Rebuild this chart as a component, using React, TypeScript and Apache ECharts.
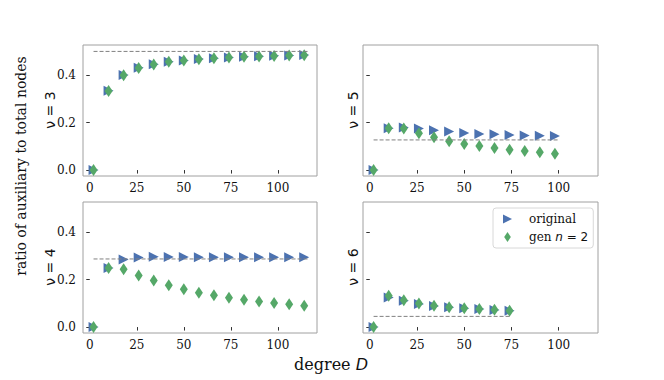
import React, { useEffect, useRef } from "react";
import * as echarts from "echarts";

const degrees = [2, 10, 18, 26, 34, 42, 50, 58, 66, 74, 82, 90, 98, 106, 114];

const nu3Original = [0, 0.334, 0.401, 0.431, 0.446, 0.456, 0.462, 0.468, 0.471, 0.474, 0.478, 0.48, 0.482, 0.483, 0.485];
const nu3Gen = [0, 0.333, 0.4, 0.43, 0.445, 0.456, 0.462, 0.467, 0.471, 0.474, 0.477, 0.479, 0.481, 0.483, 0.484];
const nu5Original = [0, 0.176, 0.179, 0.175, 0.168, 0.162, 0.156, 0.152, 0.151, 0.148, 0.146, 0.145, 0.144];
const nu5Gen = [0, 0.176, 0.175, 0.155, 0.138, 0.121, 0.11, 0.101, 0.093, 0.086, 0.08, 0.075, 0.069];
const nu4Original = [0, 0.249, 0.285, 0.293, 0.296, 0.295, 0.295, 0.294, 0.294, 0.294, 0.294, 0.294, 0.294, 0.294, 0.294];
const nu4Gen = [0, 0.249, 0.244, 0.217, 0.196, 0.176, 0.159, 0.145, 0.134, 0.124, 0.115, 0.108, 0.101, 0.096, 0.09];
const nu6Original = [0, 0.125, 0.111, 0.097, 0.089, 0.083, 0.079, 0.076, 0.072, 0.069];
const nu6Gen = [0, 0.132, 0.113, 0.099, 0.09, 0.083, 0.079, 0.076, 0.073, 0.069];

const nuValues = [3, 5, 4, 6];
const limitValues = [0.5, 0.127, 0.287, 0.045];
const limitStart = [2, 2, 2, 2];
const limitEnd = [116, 100, 116, 74];

const xTicks = [0, 25, 50, 75, 100];
const yTicks = [0, 0.2, 0.4];

const BLUE = "#4C72B0";
const GREEN = "#55A868";
const SERIF = "DejaVu Serif";
const SANS = "DejaVu Sans";
const TRI = "path://M0,0L10,5L0,10Z";
const DIA = "path://M4,0L8,6L4,12L0,6Z";

export default function App() {
  const ref = useRef<HTMLDivElement>(null);
  useEffect(() => {
    if (!ref.current) return;
    const chart = echarts.init(ref.current, null, { renderer: "svg" });
    const originals = [nu3Original, nu5Original, nu4Original, nu6Original];
    const gens = [nu3Gen, nu5Gen, nu4Gen, nu6Gen];
    const grids = [
      { left: 83, top: 45, width: 234, height: 131 },
      { left: 363, top: 45, width: 235, height: 131 },
      { left: 83, top: 202, width: 234, height: 131 },
      { left: 363, top: 202, width: 235, height: 131 },
    ].map((g) => ({ ...g, show: true, borderColor: "#a0a0a0", borderWidth: 1, backgroundColor: "transparent" }));

    const xAxis = grids.map((_, i) => ({
      type: "value",
      gridIndex: i,
      min: -3.6,
      max: 120.8,
      splitLine: { show: false },
      axisLine: { show: false },
      axisTick: { show: true, customValues: xTicks, length: 3.5, lineStyle: { color: "#333" } },
      axisLabel: { customValues: xTicks, fontFamily: SERIF, fontSize: 12, color: "#111", margin: 6 },
    }));
    const yAxis = grids.map((_, i) => ({
      type: "value",
      gridIndex: i,
      min: -0.025,
      max: 0.527,
      splitLine: { show: false },
      axisLine: { show: false },
      axisTick: { show: true, customValues: yTicks, length: 3.5, lineStyle: { color: "#333" } },
      axisLabel: {
        show: i % 2 === 0,
        customValues: yTicks,
        fontFamily: SERIF,
        fontSize: 12,
        color: "#111",
        margin: 7,
        formatter: (v: number) => v.toFixed(1),
      },
    }));

    const series: any[] = [];
    for (let i = 0; i < 4; i++) {
      series.push({
        type: "scatter",
        name: "original",
        xAxisIndex: i,
        yAxisIndex: i,
        symbol: TRI,
        symbolSize: [10, 10],
        itemStyle: { color: BLUE, opacity: 1 },
        data: originals[i].map((v, k) => [degrees[k], v]),
        z: 2,
      });
      series.push({
        type: "scatter",
        name: "gen n = 2",
        xAxisIndex: i,
        yAxisIndex: i,
        symbol: DIA,
        symbolSize: [8, 12],
        itemStyle: { color: GREEN, opacity: 1 },
        data: gens[i].map((v, k) => [degrees[k], v]),
        z: 3,
      });
      series.push({
        type: "line",
        xAxisIndex: i,
        yAxisIndex: i,
        symbol: "none",
        lineStyle: { color: "#808080", width: 1, type: [4, 2] },
        data: [
          [limitStart[i], limitValues[i]],
          [limitEnd[i], limitValues[i]],
        ],
        z: 4,
        silent: true,
      });
    }

    const nuLabelX = [50, 353, 50, 353];
    const nuLabelY = [110, 110, 267, 267];
    const graphic: any[] = nuValues.map((nu, i) => ({
      type: "text",
      x: nuLabelX[i],
      y: nuLabelY[i],
      rotation: Math.PI / 2,
      style: {
        text: `ν = ${nu}`,
        fontFamily: SANS,
        fontSize: 14,
        fill: "#111",
        align: "center",
        verticalAlign: "middle",
      },
    }));
    graphic.push({
      type: "text",
      x: 21,
      y: 166,
      rotation: Math.PI / 2,
      style: {
        text: "ratio of auxiliary to total nodes",
        fontFamily: SERIF,
        fontSize: 14,
        fill: "#111",
        align: "center",
        verticalAlign: "middle",
      },
    });
    graphic.push({
      type: "text",
      x: 331,
      y: 364,
      style: {
        text: "{a|degree }{b|D}",
        align: "center",
        verticalAlign: "middle",
        rich: {
          a: { fontFamily: SERIF, fontSize: 16, fill: "#111" },
          b: { fontFamily: SANS, fontStyle: "italic", fontSize: 16, fill: "#111" },
        },
      },
    });

    chart.setOption({
      animation: false,
      backgroundColor: "#fff",
      grid: grids,
      xAxis,
      yAxis,
      series,
      graphic,
      legend: {
        orient: "vertical",
        left: 493,
        top: 208,
        padding: [5, 5, 5, 10],
        itemGap: 6,
        itemWidth: 9,
        itemHeight: 10,
        borderColor: "#d8d8d8",
        borderWidth: 1,
        borderRadius: 3,
        backgroundColor: "#fff",
        selectedMode: false,
        data: [
          { name: "original", icon: TRI },
          { name: "gen n = 2", icon: DIA },
        ],
        formatter: (name: string) => (name === "original" ? "{s|original}" : "{s|gen }{m|n}{t| = 2}"),
        textStyle: {
          padding: [0, 0, 0, 12],
          rich: {
            s: { fontFamily: SERIF, fontSize: 12, color: "#111" },
            m: { fontFamily: SANS, fontStyle: "italic", fontSize: 12, color: "#111" },
            t: { fontFamily: SANS, fontSize: 12, color: "#111" },
          },
        },
      },
    } as any);
    return () => chart.dispose();
  }, []);
  return <div ref={ref} style={{ position: "absolute", left: 0, top: 0, width: 664, height: 380 }} />;
}
